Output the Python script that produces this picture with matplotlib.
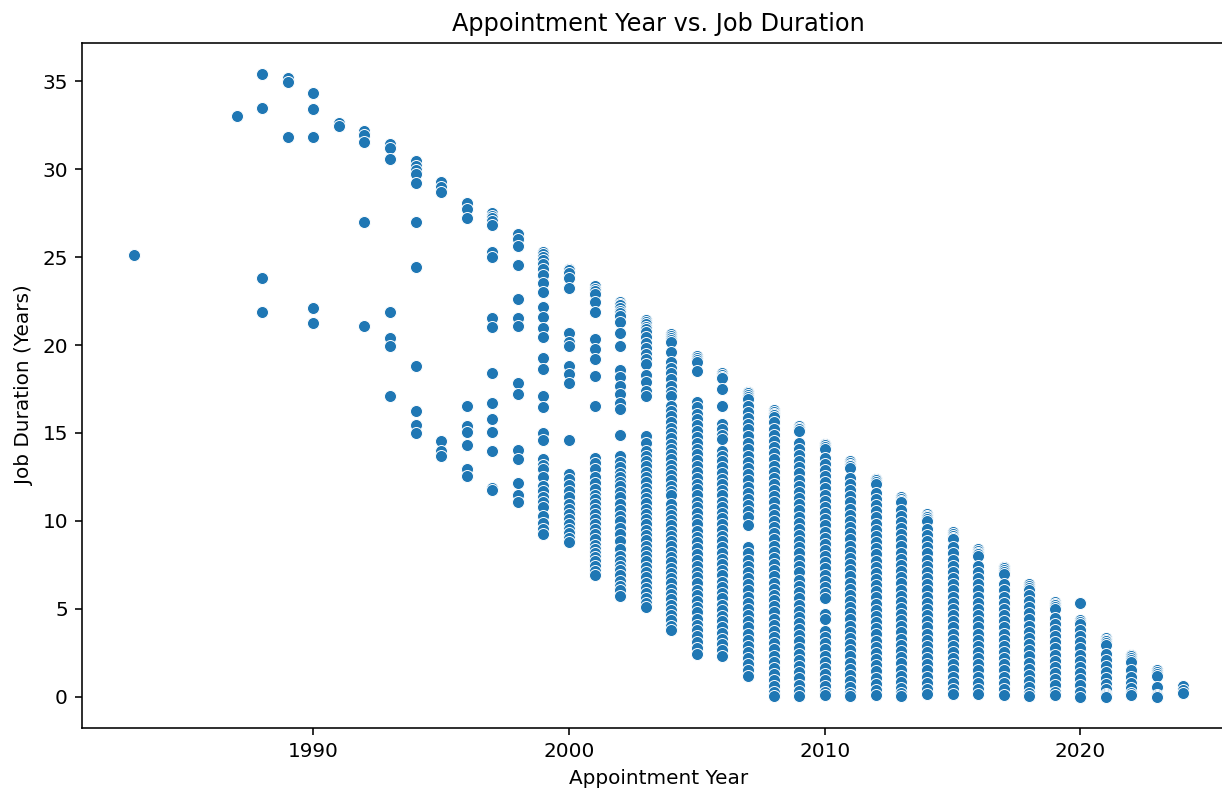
import matplotlib
matplotlib.use("Agg")
import matplotlib.pyplot as plt
import seaborn as sns
import pandas as pd

# job duration (years) for each appointment year
d1983 = [25.1]
d1987 = [33.0]
d1988 = [35.4, 33.5, 23.8, 21.9]
d1989 = [35.2, 34.95, 31.8]
d1990 = [34.35, 33.4, 31.8, 22.1, 21.25]
d1991 = [32.6, 32.45]
d1992 = [32.15, 31.95, 31.55, 27.0, 21.1]
d1993 = [31.45, 31.2, 30.55, 21.85, 20.4, 19.95, 17.1]
d1994 = [30.45, 30.2, 29.95, 29.7, 29.2, 27.0, 24.45, 18.8, 16.25, 15.45, 15.0]
d1995 = [29.25, 29.0, 28.7, 14.55, 13.95, 13.7]
d1996 = [28.05, 27.75, 27.25, 16.55, 15.4, 15.05, 14.3, 12.95, 12.55]
d1997 = [27.5, 27.35, 27.2, 27.05, 26.8, 25.3, 25.0, 21.55, 21.0, 18.4, 16.7,
         15.8, 15.05, 13.95, 11.9, 11.75]
d1998 = [26.3, 26.0, 25.65, 24.55, 22.6, 21.55, 21.1, 17.85, 17.2, 14.05, 13.5,
         12.15, 11.5, 11.05]
d1999 = [25.3, 25.15, 25.0, 24.85, 24.6, 24.3, 24.0, 23.5, 23.0, 22.15, 21.6,
         20.95, 20.45, 19.25, 18.65, 17.1, 16.45, 15.0, 14.6, 13.5, 13.2, 12.95,
         12.5, 12.0, 11.7, 11.35, 11.05, 10.8, 10.3, 9.9, 9.55, 9.25]
d2000 = [24.35, 24.25, 24.1, 23.8, 23.25, 20.7, 20.2, 19.95, 18.8, 18.35, 17.85,
         14.6, 12.65, 12.4, 12.05, 11.7, 11.35, 10.95, 10.7, 10.4, 10.1, 9.8,
         9.55, 9.3, 9.05, 8.8]
d2001 = [23.35, 23.2, 23.05, 22.9, 22.45, 21.85, 20.35, 19.8, 19.2, 18.25, 16.55,
         13.6, 13.3, 12.95, 12.5, 12.15, 11.8, 11.5, 11.25, 10.95, 10.7, 10.4,
         10.1, 9.8, 9.55, 9.25, 8.95, 8.65, 8.4, 8.15, 7.95, 7.7, 7.45, 7.15, 6.9]
d2002 = [22.45, 22.35, 22.25, 22.1, 21.95, 21.8, 21.65, 21.3, 20.7, 19.95, 18.6,
         18.2, 17.7, 17.2, 16.7, 16.35, 14.9, 13.7, 13.35, 13.05, 12.75, 12.5,
         12.2, 12.0, 11.65, 11.35, 10.95, 10.6, 10.3, 10.0, 9.6, 9.25, 8.85, 8.4,
         8.0, 7.75, 7.45, 7.2, 6.9, 6.6, 6.3, 6.05, 5.75]
d2003 = [21.4, 21.3, 21.2, 21.05, 20.9, 20.75, 20.45, 20.1, 19.85, 19.5, 19.2,
         18.9, 18.3, 17.9, 17.4, 17.1, 14.85, 14.45, 14.0, 13.7, 13.4, 13.1,
         12.8, 12.5, 12.2, 11.9, 11.6, 11.3, 11.0, 10.7, 10.4, 10.1, 9.8, 9.5,
         9.2, 8.9, 8.6, 8.3, 8.0, 7.7, 7.4, 7.1, 6.8, 6.5, 6.2, 5.9, 5.6, 5.35, 5.1]
d2004 = [20.6, 20.5, 20.4, 20.3, 20.15, 19.6, 19.05, 18.7, 18.4, 18.05, 17.7,
         17.35, 17.1, 16.55, 16.25, 15.95, 15.6, 15.3, 15.0, 14.7, 14.4, 14.1,
         13.8, 13.5, 13.2, 12.9, 12.6, 12.3, 12.0, 11.7, 11.45, 10.95, 10.65,
         10.35, 10.05, 9.75, 9.45, 9.15, 8.85, 8.55, 8.25, 7.95, 7.65, 7.35, 7.05,
         6.75, 6.45, 6.15, 5.85, 5.55, 5.25, 4.95, 4.65, 4.35, 4.05, 3.8]
d2005 = [19.35, 19.25, 19.15, 19.05, 18.5, 16.75, 16.45, 16.1, 15.8, 15.45, 15.1,
         14.8, 14.45, 14.1, 13.8, 13.45, 13.1, 12.8, 12.45, 12.1, 11.8, 11.45,
         11.1, 10.8, 10.45, 10.1, 9.8, 9.45, 9.1, 8.8, 8.45, 8.1, 7.8, 7.45, 7.1,
         6.8, 6.45, 6.1, 5.8, 5.45, 5.1, 4.8, 4.45, 4.1, 3.8, 3.45, 3.1, 2.8, 2.45]
d2006 = [18.4, 18.3, 18.2, 18.1, 17.5, 16.55, 15.5, 15.2, 14.9, 14.65, 14.0, 13.7,
         13.4, 13.05, 12.75, 12.4, 12.1, 11.75, 11.45, 11.1, 10.8, 10.45, 10.15,
         9.8, 9.5, 9.15, 8.85, 8.5, 8.2, 7.85, 7.55, 7.2, 6.9, 6.55, 6.25, 5.9,
         5.6, 5.25, 4.95, 4.6, 4.3, 3.95, 3.65, 3.3, 3.0, 2.65, 2.3]
d2007 = [17.35, 17.25, 17.15, 17.05, 16.95, 16.55, 16.2, 15.85, 15.5, 15.2, 14.85,
         14.45, 14.1, 13.7, 13.35, 13.0, 12.65, 12.3, 11.95, 11.6, 11.25, 10.9,
         10.55, 10.2, 9.75, 8.5, 8.15, 7.8, 7.45, 7.1, 6.75, 6.4, 6.05, 5.7, 5.35,
         5.0, 4.65, 4.3, 3.95, 3.6, 3.25, 2.9, 2.55, 2.2, 1.85, 1.5, 1.2]
d2008 = [16.3, 16.2, 16.1, 16.0, 15.9, 15.6, 15.25, 14.9, 14.55, 14.2, 13.85, 13.5,
         13.15, 12.8, 12.45, 12.1, 11.75, 11.4, 11.05, 10.7, 10.35, 10.0, 9.65,
         9.3, 8.95, 8.6, 8.25, 7.9, 7.55, 7.2, 6.85, 6.5, 6.15, 5.8, 5.5, 5.15,
         4.8, 4.45, 4.1, 3.75, 3.4, 3.05, 2.7, 2.35, 2.0, 1.65, 1.3, 0.95, 0.6,
         0.3, 0.05]
d2009 = [15.4, 15.3, 15.2, 15.1, 14.45, 14.1, 13.75, 13.4, 13.05, 12.7, 12.35,
         12.0, 11.65, 11.3, 10.95, 10.6, 10.25, 9.9, 9.55, 9.2, 8.85, 8.5, 8.15,
         7.8, 7.45, 7.1, 6.65, 6.3, 5.95, 5.6, 5.25, 4.9, 4.55, 4.2, 3.85, 3.5,
         3.15, 2.8, 2.45, 2.1, 1.75, 1.4, 1.05, 0.7, 0.35, 0.05]
d2010 = [14.4, 14.3, 14.2, 14.1, 13.6, 13.25, 12.9, 12.55, 12.2, 11.85, 11.5,
         11.15, 10.8, 10.45, 10.1, 9.75, 9.4, 9.05, 8.7, 8.35, 8.0, 7.65, 7.3,
         6.95, 6.6, 6.25, 5.9, 5.6, 4.7, 4.4, 3.75, 3.4, 3.05, 2.7, 2.35, 2.0,
         1.65, 1.3, 0.95, 0.6, 0.25, 0.1]
d2011 = [13.4, 13.3, 13.2, 13.1, 13.0, 12.45, 12.1, 11.75, 11.4, 11.05, 10.7,
         10.35, 10.0, 9.65, 9.3, 8.95, 8.6, 8.25, 7.9, 7.55, 7.2, 6.85, 6.5, 6.15,
         5.8, 5.45, 5.1, 4.75, 4.4, 4.05, 3.7, 3.35, 3.0, 2.65, 2.3, 1.95, 1.6,
         1.25, 0.9, 0.55, 0.2, 0.05]
d2012 = [12.4, 12.3, 12.2, 12.1, 11.6, 11.25, 10.9, 10.55, 10.2, 9.85, 9.5, 9.15,
         8.8, 8.45, 8.1, 7.75, 7.4, 7.05, 6.7, 6.35, 6.0, 5.65, 5.3, 4.95, 4.6,
         4.25, 3.9, 3.55, 3.2, 2.85, 2.5, 2.15, 1.8, 1.45, 1.1, 0.75, 0.4, 0.1]
d2013 = [11.35, 11.25, 11.15, 11.05, 10.65, 10.3, 9.95, 9.6, 9.25, 8.9, 8.55, 8.2,
         7.85, 7.5, 7.15, 6.8, 6.45, 6.1, 5.75, 5.4, 5.05, 4.7, 4.35, 4.0, 3.7,
         3.3, 2.95, 2.6, 2.25, 1.9, 1.55, 1.2, 0.85, 0.5, 0.2, 0.05]
d2014 = [10.4, 10.3, 10.2, 10.1, 10.0, 9.55, 9.2, 8.85, 8.5, 8.15, 7.8, 7.45, 7.1,
         6.75, 6.4, 6.05, 5.7, 5.35, 5.0, 4.65, 4.3, 3.95, 3.6, 3.25, 2.9, 2.55,
         2.2, 1.85, 1.5, 1.15, 0.8, 0.45, 0.15]
d2015 = [9.35, 9.25, 9.15, 9.05, 8.95, 8.5, 8.15, 7.8, 7.45, 7.1, 6.75, 6.4, 6.05,
         5.7, 5.35, 5.0, 4.65, 4.3, 3.95, 3.6, 3.25, 2.9, 2.55, 2.2, 1.85, 1.5,
         1.15, 0.8, 0.45, 0.15]
d2016 = [8.4, 8.3, 8.2, 8.1, 8.0, 7.45, 7.1, 6.75, 6.4, 6.05, 5.7, 5.35, 5.0, 4.65,
         4.3, 3.95, 3.6, 3.25, 2.9, 2.55, 2.2, 1.85, 1.5, 1.15, 0.8, 0.45, 0.15]
d2017 = [7.4, 7.3, 7.2, 7.1, 7.0, 6.4, 6.05, 5.7, 5.35, 5.0, 4.65, 4.3, 3.95, 3.6,
         3.25, 2.9, 2.55, 2.2, 1.85, 1.5, 1.15, 0.8, 0.45, 0.1]
d2018 = [6.4, 6.3, 6.2, 6.1, 5.8, 5.45, 5.1, 4.75, 4.4, 4.05, 3.7, 3.35, 3.0, 2.65,
         2.3, 1.95, 1.6, 1.25, 0.9, 0.55, 0.2, 0.05]
d2019 = [5.4, 5.3, 5.2, 5.1, 5.0, 4.5, 4.15, 3.8, 3.45, 3.1, 2.75, 2.4, 2.05, 1.7,
         1.35, 1.0, 0.65, 0.3, 0.1]
d2020 = [5.35, 4.35, 4.25, 4.15, 3.8, 3.45, 3.1, 2.75, 2.4, 2.05, 1.7, 1.35, 1.0,
         0.65, 0.3, 0.0]
d2021 = [3.35, 3.25, 3.15, 3.05, 2.95, 2.45, 2.1, 1.75, 1.4, 1.05, 0.75, 0.45,
         0.15, 0.1, 0.05, 0.0]
d2022 = [2.4, 2.3, 2.2, 2.1, 2.0, 1.5, 1.15, 0.8, 0.5, 0.2, 0.1]
d2023 = [1.5, 1.4, 1.3, 1.2, 0.55, 0.1, 0.05, 0.0]
d2024 = [0.6, 0.4, 0.2]

years = [1983, 1987, 1988, 1989, 1990, 1991, 1992, 1993, 1994, 1995, 1996, 1997,
         1998, 1999, 2000, 2001, 2002, 2003, 2004, 2005, 2006, 2007, 2008, 2009,
         2010, 2011, 2012, 2013, 2014, 2015, 2016, 2017, 2018, 2019, 2020, 2021,
         2022, 2023, 2024]
durations = [d1983, d1987, d1988, d1989, d1990, d1991, d1992, d1993, d1994, d1995,
             d1996, d1997, d1998, d1999, d2000, d2001, d2002, d2003, d2004, d2005,
             d2006, d2007, d2008, d2009, d2010, d2011, d2012, d2013, d2014, d2015,
             d2016, d2017, d2018, d2019, d2020, d2021, d2022, d2023, d2024]

rows = []
for yr, vals in zip(years, durations):
    for v in vals:
        rows.append((yr, v))
df = pd.DataFrame(rows, columns=["Appointment Year", "Job Duration (Years)"])

fig = plt.figure(figsize=(1222 / 144, 795 / 144), dpi=144)
ax = fig.add_axes([82 / 1222, 67 / 795, (1235 - 82) / 1222, (728 - 43) / 795])

sns.scatterplot(data=df, x="Appointment Year", y="Job Duration (Years)", ax=ax)
ax.set_title("Appointment Year vs. Job Duration")

fig.savefig("out.png", dpi=144)
